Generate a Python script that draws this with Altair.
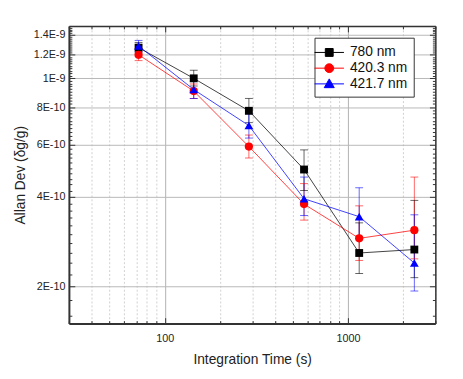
import altair as alt
import pandas as pd

series_names = ["780 nm", "420.3 nm", "421.7 nm"]
tau = [72, 144, 288, 576, 1152, 2304]

adev_780 = [1.268e-9, 1.0e-9, 0.778e-9, 0.494e-9, 0.259e-9, 0.266e-9]
lo_780 = [1.22e-9, 0.943e-9, 0.71e-9, 0.42e-9, 0.221e-9, 0.214e-9]
hi_780 = [1.32e-9, 1.065e-9, 0.856e-9, 0.575e-9, 0.327e-9, 0.389e-9]

adev_4203 = [1.20e-9, 0.906e-9, 0.59e-9, 0.378e-9, 0.290e-9, 0.309e-9]
lo_4203 = [1.147e-9, 0.856e-9, 0.54e-9, 0.334e-9, 0.2445e-9, 0.2475e-9]
hi_4203 = [1.259e-9, 0.957e-9, 0.645e-9, 0.443e-9, 0.373e-9, 0.466e-9]

adev_4217 = [1.285e-9, 0.917e-9, 0.694e-9, 0.394e-9, 0.343e-9, 0.2396e-9]
lo_4217 = [1.23e-9, 0.855e-9, 0.63e-9, 0.346e-9, 0.29e-9, 0.193e-9]
hi_4217 = [1.341e-9, 0.98e-9, 0.76e-9, 0.466e-9, 0.429e-9, 0.348e-9]

x_major = [100, 1000]
x_minor = [30, 40, 50, 60, 70, 80, 90, 200, 300, 400, 500, 600, 700, 800, 900, 2000, 3000]
y_major = [2e-10, 4e-10, 6e-10, 8e-10, 1e-9, 1.2e-9, 1.4e-9]
y_minor = [round(v * 1e-11, 13) for v in range(16, 150, 2)]

colors = ["#000000", "#ff0000", "#0000ff"]
shapes = ["square", "circle", "triangle-up"]
legend_shapes = [
    "M-1.76,0H1.76M-0.47,-0.47H0.47V0.47H-0.47Z",
    "M-1.76,0H1.76M0.53,0A0.53,0.53,0,1,1,-0.53,0A0.53,0.53,0,1,1,0.53,0Z",
    "M-1.76,0H1.76M0,-0.6L0.6,0.45H-0.6Z",
]

rows = []
for name, a, lo, hi in [
    (series_names[0], adev_780, lo_780, hi_780),
    (series_names[1], adev_4203, lo_4203, hi_4203),
    (series_names[2], adev_4217, lo_4217, hi_4217),
]:
    for t, v, l, h in zip(tau, a, lo, hi):
        rows.append({"series": name, "tau": t, "adev": v, "lo": l, "hi": h})
df = pd.DataFrame(rows)

FONT = "Liberation Sans"
xs = alt.Scale(type="log", domain=[30, 3000], nice=False)
ys = alt.Scale(type="log", domain=[1.5e-10, 1.5e-9], nice=False)
cscale = alt.Scale(domain=series_names, range=colors)

x_all = sorted(x_minor + x_major)
y_all = sorted(y_minor + y_major)
x_test = "indexof([100,1000], datum.value) >= 0"
y_test = "indexof([" + ",".join(repr(v) for v in y_major) + "], datum.value) >= 0"

x_bottom = alt.Axis(
    orient="bottom", values=x_all, title="Integration Time (s)",
    labelExpr=f"{x_test} ? format(datum.value, 'd') : ''",
    grid=True,
    gridColor={"condition": {"test": x_test, "value": "#b0b0b0"}, "value": "#d0d0d0"},
    gridDash={"condition": {"test": x_test, "value": []}, "value": [2, 2]},
    gridWidth=1,
    tickSize=alt.ExprRef(expr=f"{x_test} ? -6 : -3"),
    tickColor="#333", tickWidth=1,
    domainColor="#333", domainWidth=2,
    labelFont=FONT, labelFontSize=11, labelColor="#222", labelPadding=15,
    titleFont=FONT, titleFontSize=14, titleFontWeight="normal", titleColor="#222",
    titlePadding=10,
)
y_left = alt.Axis(
    orient="left", values=y_all, title="Allan Dev (δg/g)",
    labelExpr=f"{y_test} ? replace(format(datum.value, '~e'), 'e', 'E') : ''",
    grid=True,
    gridColor="#b8b8b8",
    gridOpacity={"condition": {"test": y_test, "value": 1}, "value": 0},
    gridWidth=1,
    tickSize=alt.ExprRef(expr=f"{y_test} ? -6 : -3"),
    tickColor="#333", tickWidth=1,
    domainColor="#333", domainWidth=2,
    labelFont=FONT, labelFontSize=11, labelColor="#222", labelPadding=10,
    titleFont=FONT, titleFontSize=14, titleFontWeight="normal", titleColor="#222",
    titlePadding=6,
)
x_top = alt.Axis(
    orient="top", values=x_all, labels=False, title=None, grid=False,
    tickSize=alt.ExprRef(expr=f"{x_test} ? -6 : -3"),
    tickColor="#333", domainColor="#333", domainWidth=1.5,
)
y_right = alt.Axis(
    orient="right", values=y_all, labels=False, title=None, grid=False,
    tickSize=alt.ExprRef(expr=f"{y_test} ? -6 : -3"),
    tickColor="#333", domainColor="#333", domainWidth=1.5,
)

base = alt.Chart(df)

err = base.mark_rule(strokeWidth=1, opacity=0.6).encode(
    x=alt.X("tau:Q", scale=xs, axis=x_bottom),
    y=alt.Y("lo:Q", scale=ys, axis=y_left),
    y2="hi:Q",
    color=alt.Color("series:N", scale=cscale, legend=None),
)
cap_lo = base.mark_tick(orient="horizontal", size=8, thickness=1, opacity=0.6).encode(
    x=alt.X("tau:Q", scale=xs, axis=None),
    y=alt.Y("lo:Q", scale=ys, axis=None),
    color=alt.Color("series:N", scale=cscale, legend=None),
)
cap_hi = base.mark_tick(orient="horizontal", size=8, thickness=1, opacity=0.6).encode(
    x=alt.X("tau:Q", scale=xs, axis=None),
    y=alt.Y("hi:Q", scale=ys, axis=None),
    color=alt.Color("series:N", scale=cscale, legend=None),
)
lines = base.mark_line(strokeWidth=1, opacity=0.75).encode(
    x=alt.X("tau:Q", scale=xs, axis=x_top),
    y=alt.Y("adev:Q", scale=ys, axis=y_right),
    color=alt.Color("series:N", scale=cscale, legend=None),
    detail="series:N",
    order="tau:Q",
)
point_layers = []
for name, col, shp, sz in zip(series_names, colors, shapes, [64, 70, 80]):
    point_layers.append(
        base.transform_filter(alt.datum.series == name)
        .mark_point(filled=True, size=sz, opacity=1, shape=shp, color=col)
        .encode(
            x=alt.X("tau:Q", scale=xs, axis=None),
            y=alt.Y("adev:Q", scale=ys, axis=None),
        )
    )

def make_legend():
    return alt.Legend(
        title=None, orient="none", legendX=250, legendY=12,
        symbolSize=289, symbolStrokeWidth=1, symbolOpacity=1,
        labelFont=FONT, labelFontSize=14, labelColor="#111",
        labelOffset=12, rowPadding=0, padding=6,
        strokeColor="#333", fillColor="white", cornerRadius=0,
    )

legend_layer = base.transform_filter("false").mark_point(filled=False, strokeWidth=1).encode(
    x=alt.X("tau:Q", scale=xs, axis=None),
    y=alt.Y("adev:Q", scale=ys, axis=None),
    fill=alt.Fill("series:N", scale=alt.Scale(domain=series_names, range=colors), legend=make_legend()),
    stroke=alt.Stroke("series:N", scale=alt.Scale(domain=series_names, range=colors), legend=make_legend()),
    shape=alt.Shape("series:N", scale=alt.Scale(domain=series_names, range=legend_shapes), legend=make_legend()),
)

chart = alt.layer(err, cap_lo, cap_hi, lines, *point_layers, legend_layer).resolve_scale(
    shape="independent", fill="independent", stroke="independent"
).resolve_axis(
    x="independent", y="independent"
).properties(
    width=373, height=303,
    autosize=alt.AutoSizeParams(type="none"),
    padding={"left": 62, "top": 15, "right": 20, "bottom": 45},
).configure_view(stroke=None).configure(background="white")

chart.save("out.html", embed_options={"renderer": "svg", "actions": False})
